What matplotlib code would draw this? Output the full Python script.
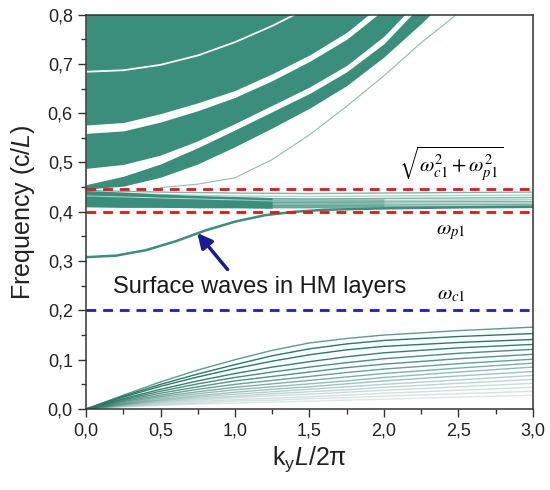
import matplotlib
matplotlib.use('Agg')
import matplotlib.pyplot as plt

plt.rcParams['font.family'] = ['Liberation Sans', 'DejaVu Sans']
plt.rcParams['mathtext.fontset'] = 'custom'
plt.rcParams['mathtext.rm'] = 'Liberation Sans'
plt.rcParams['mathtext.it'] = 'Liberation Sans:italic'

teal = '#3a8f7b'
teal_dark = '#2a7a66'

# upper band (filled) and the white gaps inside it
x_up = [0, 0.25, 0.5, 0.75, 1.0, 1.25, 1.5, 1.75, 2.0, 2.25, 2.5]
band_lo = [0.446, 0.452, 0.470, 0.497, 0.532, 0.570, 0.610, 0.656, 0.714, 0.782, 0.855]
gap3_lo = [0.455, 0.472, 0.497, 0.530, 0.566, 0.603, 0.640, 0.684, 0.741, 0.820, 0.900]
gap3_hi = [0.488, 0.496, 0.515, 0.544, 0.579, 0.616, 0.653, 0.697, 0.756, 0.835, 0.920]
gap2_lo = [0.559, 0.564, 0.582, 0.605, 0.632, 0.666, 0.705, 0.750, 0.810, 0.880, 0.950]
gap2_hi = [0.576, 0.581, 0.599, 0.621, 0.646, 0.680, 0.718, 0.764, 0.825, 0.900, 0.970]
gap1 = [0.684, 0.687, 0.698, 0.717, 0.744, 0.777, 0.815, 0.860, 0.910, 0.960, 1.000]

# thin separate mode below the upper band
x_thin = [0.5, 0.75, 1.0, 1.25, 1.5, 1.75, 2.0, 2.25, 2.5]
y_thin = [0.449, 0.456, 0.469, 0.506, 0.556, 0.614, 0.676, 0.743, 0.803]

# band between omega_p1 and sqrt(wc^2+wp^2)
x_mid = [0, 0.25, 0.5, 0.75, 1.0, 1.25]
mid_top = [0.443, 0.440, 0.436, 0.433, 0.431, 0.429]
mid_bot = [0.410, 0.409, 0.409, 0.408, 0.408, 0.407]
mid_gap = [0.432, 0.430, 0.428, 0.426, 0.424, 0.422]
x_fade = [1.25, 1.5, 1.75, 2.0]
fade_top = [0.429, 0.428, 0.428, 0.428]
fade_bot = [0.407, 0.407, 0.408, 0.409]
x_midl = [0, 0.5, 1.0, 1.5, 2.0, 2.5, 3.0]
mid_lines = [
    [0.443, 0.440, 0.438, 0.437, 0.438, 0.439, 0.440],
    [0.440, 0.435, 0.432, 0.431, 0.432, 0.433, 0.434],
    [0.436, 0.430, 0.427, 0.426, 0.427, 0.428, 0.429],
    [0.432, 0.426, 0.423, 0.422, 0.423, 0.424, 0.425],
    [0.428, 0.422, 0.419, 0.419, 0.420, 0.421, 0.421],
    [0.424, 0.419, 0.416, 0.416, 0.417, 0.418, 0.418],
    [0.420, 0.416, 0.413, 0.413, 0.414, 0.415, 0.415],
    [0.415, 0.413, 0.411, 0.411, 0.412, 0.412, 0.413],
    [0.411, 0.410, 0.409, 0.409, 0.410, 0.410, 0.411],
]

# surface wave branch
x_sw = [0, 0.2, 0.4, 0.6, 0.8, 1.0, 1.2, 1.4, 1.6, 2.0, 2.5, 3.0]
y_sw = [0.308, 0.311, 0.322, 0.340, 0.362, 0.380, 0.393, 0.400, 0.404, 0.407, 0.409, 0.410]

# low frequency branches
x_low = [0, 0.25, 0.5, 0.75, 1.0, 1.25, 1.5, 1.75, 2.0, 2.5, 3.0]
low_bands = [
    [0, .028, .055, .079, .100, .119, .134, .143, .150, .159, .166],
    [0, .026, .050, .071, .090, .108, .122, .132, .139, .147, .153],
    [0, .024, .046, .065, .082, .097, .110, .120, .127, .135, .141],
    [0, .021, .040, .057, .072, .085, .096, .106, .114, .124, .131],
    [0, .019, .036, .051, .064, .075, .085, .094, .102, .113, .121],
    [0, .017, .032, .045, .057, .066, .075, .084, .091, .102, .111],
    [0, .015, .028, .040, .050, .058, .066, .074, .081, .092, .101],
    [0, .013, .025, .035, .044, .051, .058, .065, .072, .083, .093],
    [0, .011, .022, .031, .039, .045, .051, .057, .064, .075, .085],
    [0, .010, .019, .027, .034, .040, .045, .051, .057, .067, .076],
    [0, .009, .017, .024, .030, .035, .040, .045, .050, .059, .068],
    [0, .008, .015, .021, .026, .031, .035, .039, .044, .052, .060],
    [0, .007, .013, .018, .023, .027, .030, .034, .038, .045, .052],
    [0, .006, .011, .015, .019, .022, .025, .028, .032, .038, .044],
    [0, .005, .009, .012, .016, .018, .021, .023, .026, .031, .036],
    [0, .004, .007, .010, .012, .014, .016, .018, .020, .024, .028],
]
low_alpha = [0.75, 1.0, 1.0, 0.95, 0.85, 0.8, 0.7, 0.6, 0.5, 0.45,
             0.35, 0.3, 0.25, 0.22, 0.2, 0.17]

w_c1 = 0.2
w_p1 = 0.4
w_top = 0.4472

x_ticks = [0, 0.5, 1.0, 1.5, 2.0, 2.5, 3.0]
x_labels = ['0,0', '0,5', '1,0', '1,5', '2,0', '2,5', '3,0']
y_ticks = [0, 0.1, 0.2, 0.3, 0.4, 0.5, 0.6, 0.7, 0.8]
y_labels = ['0,0', '0,1', '0,2', '0,3', '0,4', '0,5', '0,6', '0,7', '0,8']

fig = plt.figure(figsize=(5.5, 4.9), dpi=100)
ax = fig.add_axes([0.1564, 0.1653, 0.8126, 0.805])

# upper band
ax.fill_between(x_up, band_lo, 0.85, color=teal, lw=0)
ax.fill_between(x_up, gap3_lo, gap3_hi, color='white', lw=0)
ax.fill_between(x_up, gap2_lo, gap2_hi, color='white', lw=0)
ax.plot(x_up, gap1, color='white', lw=1.3)
ax.plot(x_thin, y_thin, color='#8fbcb1', lw=0.8)

# middle band
ax.fill_between(x_mid, mid_bot, mid_top, color=teal, lw=0)
ax.fill_between(x_fade, fade_bot, fade_top, color=teal, lw=0, alpha=0.35)
ax.plot(x_mid, mid_gap, color='white', lw=0.8, alpha=0.8)
for i, yy in enumerate(mid_lines):
    ax.plot(x_midl, yy, color=teal, lw=1.0, alpha=0.4 if i % 2 else 0.65)

ax.plot(x_sw, y_sw, color=teal, lw=1.8)

for yy, a in zip(low_bands, low_alpha):
    ax.plot(x_low, yy, color=teal_dark, lw=1.0, alpha=a)

ax.axhline(w_top, color='#e8141c', ls=(0, (3.5, 2.5)), lw=2)
ax.axhline(w_p1, color='#e8141c', ls=(0, (3.5, 2.5)), lw=2)
ax.axhline(w_c1, color='#1b1bd0', ls=(0, (3.5, 2.5)), lw=2)

ax.annotate('', xy=(0.747, 0.357), xytext=(0.95, 0.283),
            arrowprops=dict(arrowstyle='-|>', color='#1a1a96', lw=2.5,
                            mutation_scale=22, shrinkA=0, shrinkB=0))
ax.text(0.183, 0.236, 'Surface waves in HM layers', fontsize=17,
        color='#1a1a1a', va='baseline')

ax.text(2.45, 0.357, r'$\omega_{p1}$', fontsize=15, ha='center', va='center',
        math_fontfamily='stix')
ax.text(2.45, 0.232, r'$\omega_{c1}$', fontsize=15, ha='center', va='center',
        math_fontfamily='stix')
ax.text(2.45, 0.497, r'$\sqrt{\omega_{c1}^2+\omega_{p1}^2}$', fontsize=15,
        ha='center', va='center', math_fontfamily='stix')

ax.set_xlim(0, 3.0)
ax.set_ylim(0, 0.8)
ax.set_xticks(x_ticks)
ax.set_xticklabels(x_labels)
ax.set_yticks(y_ticks)
ax.set_yticklabels(y_labels)
ax.set_xticks([0.25, 0.75, 1.25, 1.75, 2.25, 2.75], minor=True)
ax.set_yticks([0.05, 0.15, 0.25, 0.35, 0.45, 0.55, 0.65, 0.75], minor=True)
ax.tick_params(which='major', direction='out', length=6, width=1,
               labelsize=13, color='#333333', labelcolor='#222222')
ax.tick_params(which='minor', direction='out', length=3.5, width=1,
               color='#333333')
for s in ax.spines.values():
    s.set_color('#333333')
    s.set_linewidth(1.1)

ax.set_xlabel(r'k$_{\mathregular{y}}$$\mathit{L}$/2π', fontsize=18, color='#222222')
ax.set_ylabel(r'Frequency (c/$\mathit{L}$)', fontsize=18, color='#222222',
              labelpad=8)

fig.savefig('out.png', dpi=100)
